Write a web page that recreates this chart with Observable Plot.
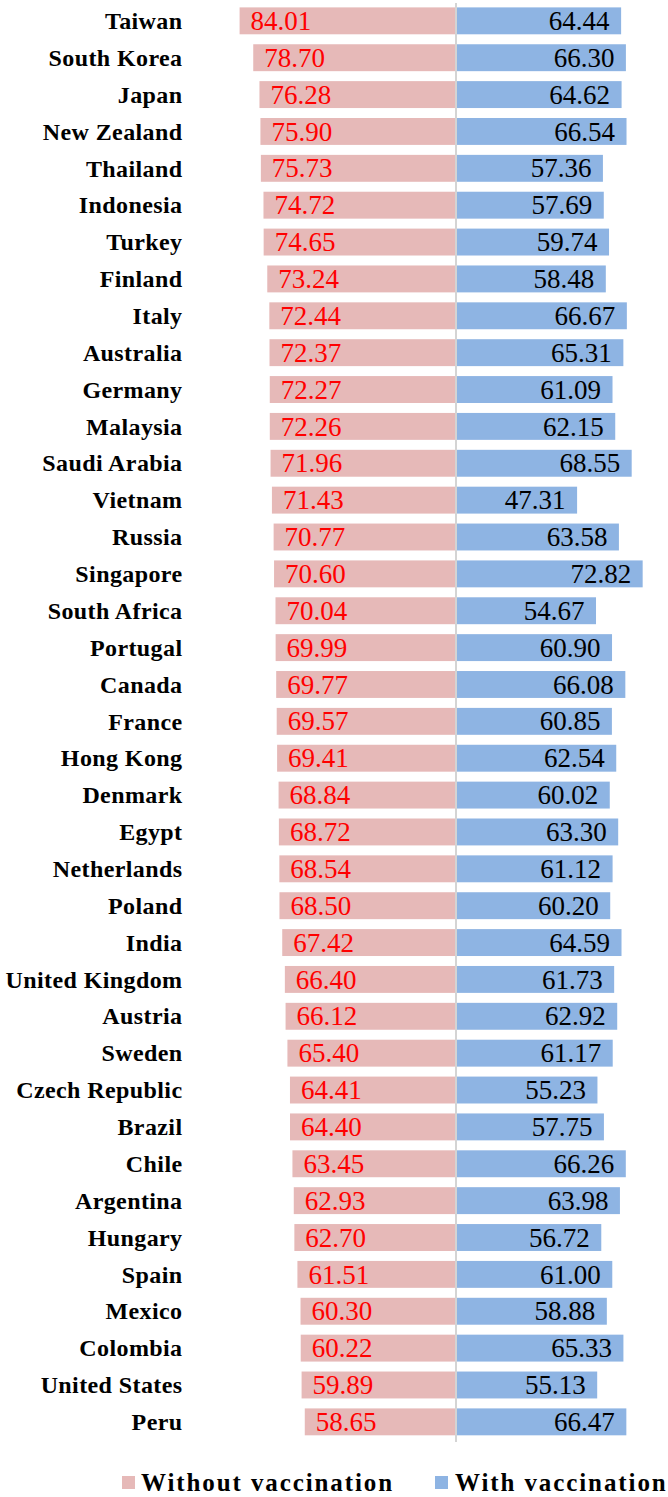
<!DOCTYPE html>
<html>
<head>
<meta charset="utf-8">
<script src="https://cdn.jsdelivr.net/npm/d3@7"></script>
<script src="https://cdn.jsdelivr.net/npm/@observablehq/plot@0.6"></script>
<style>
  html, body { margin: 0; padding: 0; background: #ffffff; }
  body { width: 668px; height: 1497px; overflow: hidden; font-family: "Liberation Serif", "Times New Roman", serif; }
  #chart svg { display: block; }
  #chart svg text { font-family: "Liberation Serif", "Times New Roman", serif !important; }
  #chart g[aria-label="y-axis tick label"] text { letter-spacing: 0.4px; }
  #legend { position: relative; width: 668px; height: 55px; }
  #legend .sw { position: absolute; width: 13px; height: 13px; top: 34px; }
  #legend .lb { position: absolute; top: 28px; font-size: 25px; line-height: 25px; font-weight: bold; letter-spacing: 1.9px; color: #000; white-space: nowrap; }
</style>
</head>
<body>
<div id="chart"></div>
<div id="legend"></div>
<script>
const countries = ["Taiwan","South Korea","Japan","New Zealand","Thailand","Indonesia","Turkey","Finland","Italy","Australia","Germany","Malaysia","Saudi Arabia","Vietnam","Russia","Singapore","South Africa","Portugal","Canada","France","Hong Kong","Denmark","Egypt","Netherlands","Poland","India","United Kingdom","Austria","Sweden","Czech Republic","Brazil","Chile","Argentina","Hungary","Spain","Mexico","Colombia","United States","Peru"];
const withoutVaccination = [84.01,78.70,76.28,75.90,75.73,74.72,74.65,73.24,72.44,72.37,72.27,72.26,71.96,71.43,70.77,70.60,70.04,69.99,69.77,69.57,69.41,68.84,68.72,68.54,68.50,67.42,66.40,66.12,65.40,64.41,64.40,63.45,62.93,62.70,61.51,60.30,60.22,59.89,58.65];
const withVaccination = [64.44,66.30,64.62,66.54,57.36,57.69,59.74,58.48,66.67,65.31,61.09,62.15,68.55,47.31,63.58,72.82,54.67,60.90,66.08,60.85,62.54,60.02,63.30,61.12,60.20,64.59,61.73,62.92,61.17,55.23,57.75,66.26,63.98,56.72,61.00,58.88,65.33,55.13,66.47];
const seriesNames = ["Without vaccination", "With vaccination"];
const seriesColors = ["#E6B9B8", "#8EB4E3"];

const rows = countries.map((c, i) => ({country: c, without: withoutVaccination[i], with: withVaccination[i]}));
const font = "Liberation Serif";

const chart = Plot.plot({
  width: 668,
  height: 1442,
  marginLeft: 195,
  marginRight: 0,
  marginTop: 3,
  marginBottom: 0,
  style: {fontFamily: font, background: "#ffffff", color: "#000"},
  x: {domain: [-101.36, 82.68], axis: null},
  y: {domain: countries, range: [3.7, 1439], paddingInner: 0.27, paddingOuter: 0.1, label: null},
  marks: [
    Plot.barX(rows, {x1: d => -d.without, x2: 0, y: "country", fill: seriesColors[0]}),
    Plot.barX(rows, {x1: 0, x2: "with", y: "country", fill: seriesColors[1]}),
    Plot.ruleX([0], {stroke: "#d4d4d4", strokeWidth: 2}),
    Plot.text(rows, {x: d => -d.without, y: "country", text: d => d.without.toFixed(2), textAnchor: "start", dx: 10.5, fill: "#ff0000", fontSize: 27, fontFamily: font}),
    Plot.text(rows, {x: "with", y: "country", text: d => d.with.toFixed(2), textAnchor: "end", dx: -12, fill: "#000000", fontSize: 27, fontFamily: font}),
    Plot.axisY({tickSize: 0, tickPadding: 13, fontSize: 24, fontWeight: "bold", fontFamily: font, fill: "#000", label: null})
  ]
});
document.getElementById("chart").appendChild(chart);

const legend = document.getElementById("legend");
const legendPos = [{sw: 122, lb: 141}, {sw: 435, lb: 455}];
seriesNames.forEach((name, i) => {
  const sw = document.createElement("div");
  sw.className = "sw";
  sw.style.left = legendPos[i].sw + "px";
  sw.style.background = seriesColors[i];
  legend.appendChild(sw);
  const lb = document.createElement("div");
  lb.className = "lb";
  lb.style.left = legendPos[i].lb + "px";
  lb.textContent = name;
  legend.appendChild(lb);
});
</script>
</body>
</html>
